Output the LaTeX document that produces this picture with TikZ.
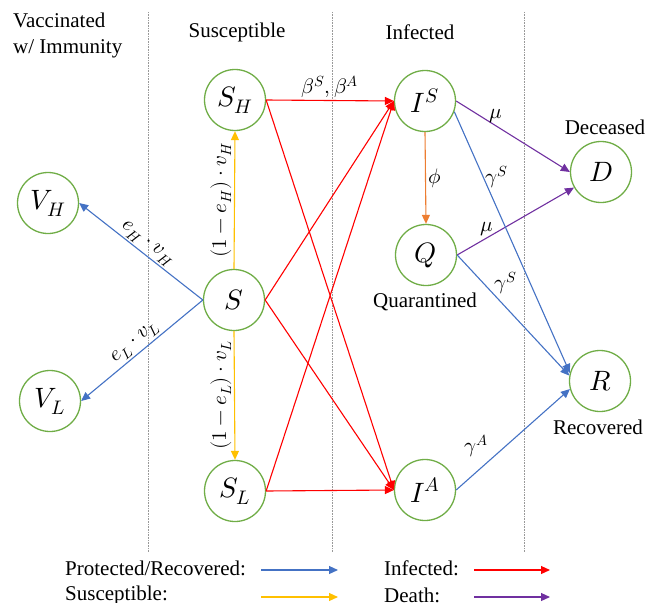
\documentclass[tikz,border=0pt]{standalone}
\usepackage{fontspec}
\usepackage{unicode-math}
\setmainfont{Liberation Serif}
\setmathfont{Latin Modern Math}
\usetikzlibrary{arrows.meta}
\definecolor{cgreen}{RGB}{112,173,71}
\definecolor{cblue}{RGB}{68,114,196}
\definecolor{cred}{RGB}{255,0,0}
\definecolor{cyellow}{RGB}{255,192,0}
\definecolor{corange}{RGB}{237,125,49}
\definecolor{cpurple}{RGB}{112,48,160}
\begin{document}
\begin{tikzpicture}[x=1pt,y=-1pt,
  comp/.style={circle, draw=cgreen, line width=1.3pt, minimum size=61pt, inner sep=0pt, text=black, font=\fontsize{28}{32}\selectfont},
  txt/.style={font=\fontsize{21}{26}\selectfont, inner sep=0pt, text=black},
  lbl/.style={font=\fontsize{21}{24}\selectfont, inner sep=2pt, text=black},
  flow/.style={line width=1.1pt, -{Triangle[length=9pt,width=8pt]}},
  sep/.style={gray!80, densely dotted, line width=0.6pt}]
\useasboundingbox (0,0) rectangle (658,602);
% separators
\draw[sep] (148,12) -- (148,552);
\draw[sep] (332,12) -- (332,552);
\draw[sep] (524,12) -- (524,552);
% headings
\node[txt, anchor=west, align=left] (hV) at (13,35) {Vaccinated\\w/ Immunity};
\node[txt] (hS) at (237,32) {Susceptible};
\node[txt] (hI) at (420,32) {Infected};
\node[txt] (hD) at (605,127) {Deceased};
\node[txt] (hQ) at (425,302) {Quarantined};
\node[txt] (hR) at (598,427) {Recovered};
% compartments
\node[comp] (SH) at (235,100) {$S_H$};
\node[comp] (S) at (234,300) {$S$};
\node[comp] (SL) at (235,491) {$S_L$};
\node[comp] (IS) at (425,101) {$I^S$};
\node[comp] (Q) at (426,255) {$Q$};
\node[comp] (IA) at (425,490) {$I^A$};
\node[comp] (D) at (601,172) {$D$};
\node[comp] (R) at (600,381) {$R$};
\node[comp] (VH) at (48,203) {$V_H$};
\node[comp] (VL) at (50,401) {$V_L$};
% infection
\draw[flow, cred] (SH.east) -- node[lbl, above] {$\beta^S,\beta^A$} (IS.west);
\draw[flow, cred] (SH.east) -- (IA.west);
\draw[flow, cred] (S.east) -- (IS.west);
\draw[flow, cred] (S.east) -- (IA.west);
\draw[flow, cred] (SL.east) -- (IS.west);
\draw[flow, cred] (SL.east) -- (IA.west);
% susceptible
\draw[flow, cyellow] (S.north) -- node[lbl, midway, rotate=90, anchor=south] {$(1-e_H)\cdot v_H$} (SH.south);
\draw[flow, cyellow] (S.south) -- node[lbl, midway, rotate=90, anchor=south] {$(1-e_L)\cdot v_L$} (SL.north);
% vaccination
\draw[flow, cblue] (S.west) -- node[lbl, midway, sloped, above] {$e_H\cdot v_H$} (VH.east);
\draw[flow, cblue] (S.west) -- node[lbl, midway, sloped, above] {$e_L\cdot v_L$} (VL.east);
% quarantine
\draw[flow, corange] (IS.south) -- node[lbl, right] {$\phi$} (Q.north);
% death
\draw[flow, cpurple] (IS.east) -- node[lbl, pos=0.35, above] {$\mu$} (D.west);
\draw[flow, cpurple] (Q.east) -- node[lbl, pos=0.25, above] {$\mu$} (D.210);
% recovery
\draw[flow, cblue] (IS.-20) -- node[lbl, pos=0.25, right] {$\gamma^S$} (R.165);
\draw[flow, cblue] (Q.east) -- node[lbl, pos=0.33, above right, inner sep=0pt] {$\gamma^S$} (R.170);
\draw[flow, cblue] (IA.east) -- node[lbl, pos=0.3, above left] {$\gamma^A$} (R.195);
% legend
\node[txt, anchor=west] (lP) at (65,568) {Protected/Recovered:};
\node[txt, anchor=west] (lS) at (65,595) {Susceptible:};
\node[txt, anchor=west] (lI) at (384,568) {Infected:};
\node[txt, anchor=west] (lD) at (384,595) {Death:};
\coordinate (aP1) at (261,570); \coordinate (aP2) at (338,570);
\coordinate (aS1) at (261,597); \coordinate (aS2) at (338,597);
\coordinate (aI1) at (474,570); \coordinate (aI2) at (550,570);
\coordinate (aD1) at (474,597); \coordinate (aD2) at (550,597);
\draw[flow, cblue] (aP1) -- (aP2);
\draw[flow, cyellow] (aS1) -- (aS2);
\draw[flow, cred] (aI1) -- (aI2);
\draw[flow, cpurple] (aD1) -- (aD2);
\end{tikzpicture}
\end{document}
